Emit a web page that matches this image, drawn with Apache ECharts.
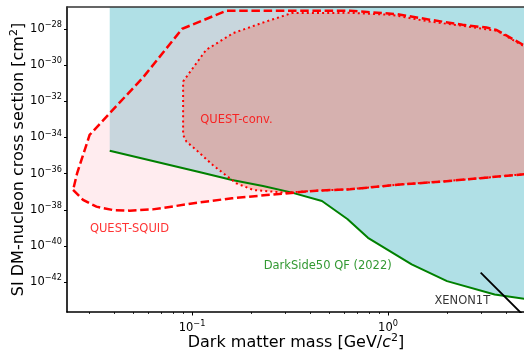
<!DOCTYPE html>
<html>
<head>
<meta charset="utf-8">
<script src="https://cdn.jsdelivr.net/npm/echarts@6/dist/echarts.min.js"></script>
<style>
  html, body { margin: 0; padding: 0; background: #fff; }
  #chart { width: 524px; height: 352px; }
</style>
</head>
<body>
<div id="chart"></div>
<script>
// Axis ranges (dark matter mass in GeV/c^2, cross section in cm^2)
const massRange = [0.023, 5];
const crossSectionRange = [2.3e-44, 1.6e-27];

// Tick positions
const xMajorTicks = [0.1, 1];
const xMinorTicks = [0.03, 0.04, 0.05, 0.06, 0.07, 0.08, 0.09,
                     0.2, 0.3, 0.4, 0.5, 0.6, 0.7, 0.8, 0.9, 2, 3, 4];
const yTicks = [1e-42, 1e-40, 1e-38, 1e-36, 1e-34, 1e-32, 1e-30, 1e-28];

// DarkSide-50 with quenching fluctuations (2022): exclusion limit
const darkSide50 = [
  [0.038, 1.86e-35], [0.11, 1.2e-36], [0.16, 4.47e-37], [0.23, 2.09e-37],
  [0.32, 9.3e-38], [0.46, 3.1e-38], [0.62, 3.16e-39], [0.79, 2.88e-40],
  [1.32, 9.8e-42], [2.0, 1.17e-42], [3.5, 2.14e-43], [5, 1.2e-43]
];

// QUEST-SQUID projected sensitivity (closed contour, continues past the frame)
const questSquid = [
  [0.0247, 1.26e-37], [0.0278, 3.55e-38], [0.0325, 1.51e-38], [0.0395, 9.8e-39],
  [0.048, 9.1e-39], [0.063, 1.07e-38], [0.083, 1.66e-38], [0.11, 2.63e-38],
  [0.16, 4.4e-38], [0.24, 6.6e-38], [0.43, 1.15e-37], [0.64, 1.38e-37],
  [1.19, 2.6e-37], [1.84, 3.6e-37], [2.94, 5.6e-37], [5.3, 1.0e-36],
  [5.3, 8.1e-30], [3.57, 8.7e-29], [3.18, 1.17e-28], [2.4, 1.66e-28],
  [1.63, 3.2e-28], [1.1, 6.5e-28], [0.64, 1.0e-27], [0.15, 1.0e-27],
  [0.089, 1.0e-28], [0.056, 1.95e-31], [0.038, 2.2e-33], [0.030, 1.38e-34],
  [0.0259, 1.05e-36]
];

// QUEST conventional readout projected sensitivity (closed contour)
const questConv = [
  [0.09, 1.23e-31], [0.118, 6.9e-30], [0.162, 5.75e-29], [0.227, 2.1e-28],
  [0.323, 7.4e-28], [0.64, 7.6e-28], [1.045, 5.9e-28], [1.63, 2.5e-28],
  [2.4, 1.48e-28], [3.59, 7.8e-29], [5.3, 7.2e-30], [5.3, 1.0e-36],
  [2.94, 5.6e-37], [1.84, 3.6e-37], [1.19, 2.6e-37], [0.64, 1.38e-37],
  [0.40, 1.1e-37], [0.30, 8.9e-38], [0.205, 1.26e-37], [0.168, 2.95e-37],
  [0.1275, 3.0e-36], [0.105, 2.04e-35], [0.0936, 5.9e-35], [0.09, 1.38e-34]
];

// XENON1T limit (visible segment)
const xenon1t = [[2.97, 3.4e-42], [4.8, 1.9e-44]];

// Curve annotations: text, anchor (left edge, vertical centre), colour
const annotationText = ['QUEST-conv.', 'QUEST-SQUID', 'DarkSide50 QF (2022)', 'XENON1T'];
const annotationAnchor = [[0.110, 9.3e-34], [0.0301, 8.5e-40], [0.232, 7.9e-42], [1.725, 9.1e-44]];
const annotationColor = ['#ff0000', '#ff0000', '#008000', '#000000'];

const FONT = 'DejaVu Sans';

// The cross-section axis is laid out in decades (log10 of cm^2)
const decade = v => Math.log10(v);
const toPlot = pts => pts.map(([m, s]) => [m, decade(s)]);

const supLabel = e => '{b|10}{s|' + (e < 0 ? '\u2212' : '') + Math.abs(e) + '}';
const tickRich = {
  b: { fontFamily: FONT, fontSize: 11.5, color: '#000', lineHeight: 16 },
  s: { fontFamily: FONT, fontSize: 8.2, color: '#000', lineHeight: 8, verticalAlign: 'top' }
};

// Closed contour drawn through the cartesian coordinate system
function contour(name, points, style, z) {
  return {
    type: 'custom', name, z, clip: true, silent: true,
    data: toPlot(points),
    renderItem: (params, api) => {
      if (params.dataIndex !== 0) return null;
      const pts = [];
      for (let i = 0; i < params.dataInsideLength; i++) {
        pts.push(api.coord([api.value(0, i), api.value(1, i)]));
      }
      return { type: 'polygon', shape: { points: pts }, style };
    }
  };
}

const baseLogX = {
  type: 'log', logBase: 10, min: massRange[0], max: massRange[1], z: 10,
  splitLine: { show: false }
};

const chart = echarts.init(document.getElementById('chart'), null, { renderer: 'canvas' });
chart.setOption({
  animation: false,
  backgroundColor: '#fff',
  grid: { left: 67, top: 7, width: 458, height: 305, containLabel: false, outerBoundsMode: 'none' },
  xAxis: [
    Object.assign({}, baseLogX, {
      position: 'bottom',
      axisLine: { show: true, onZero: false, lineStyle: { color: '#000', width: 1.6 } },
      axisTick: { show: true, customValues: xMajorTicks, length: 3.5, lineStyle: { color: '#000', width: 1 } },
      axisLabel: {
        customValues: xMajorTicks, rich: tickRich, margin: 8,
        formatter: v => supLabel(Math.round(Math.log10(v)))
      },
      name: '{t|Dark matter mass [GeV/}{i|c}{s|2}{t|]}',
      nameLocation: 'middle', nameGap: 20.5, nameMoveOverlap: false,
      nameTextStyle: {
        fontFamily: FONT, fontSize: 16, color: '#000',
        rich: {
          t: { fontFamily: FONT, fontSize: 16, color: '#000', lineHeight: 20 },
          i: { fontFamily: FONT, fontSize: 16, color: '#000', fontStyle: 'italic', lineHeight: 20 },
          s: { fontFamily: FONT, fontSize: 11, color: '#000', lineHeight: 10, verticalAlign: 'top' }
        }
      }
    }),
    Object.assign({}, baseLogX, {
      position: 'bottom',
      axisLine: { show: false, onZero: false },
      axisTick: { show: true, customValues: xMinorTicks, length: 2, lineStyle: { color: '#000', width: 0.8 } },
      axisLabel: { show: false }
    }),
    Object.assign({}, baseLogX, {
      position: 'top',
      axisLine: { show: true, onZero: false, lineStyle: { color: '#333', width: 1.6 } },
      axisTick: { show: false },
      axisLabel: { show: false }
    })
  ],
  yAxis: {
    type: 'value', min: decade(crossSectionRange[0]), max: decade(crossSectionRange[1]), z: 10,
    splitLine: { show: false },
    axisLine: { show: true, onZero: false, lineStyle: { color: '#000', width: 1.6 } },
    axisTick: { show: true, customValues: yTicks.map(decade), length: 3, lineStyle: { color: '#000', width: 1 } },
    axisLabel: {
      customValues: yTicks.map(decade), rich: tickRich, margin: 5,
      formatter: v => supLabel(Math.round(v))
    },
    name: '{t|SI DM-nucleon cross section [cm}{s|2}{t|]}',
    nameLocation: 'middle', nameRotate: 90, nameGap: 38, nameMoveOverlap: false,
    nameTextStyle: {
      fontFamily: FONT, fontSize: 16, color: '#000',
      rich: {
        t: { fontFamily: FONT, fontSize: 16, color: '#000', lineHeight: 20 },
        s: { fontFamily: FONT, fontSize: 11, color: '#000', lineHeight: 10, verticalAlign: 'top' }
      }
    }
  },
  series: [
    {
      // excluded region above the DarkSide-50 limit
      type: 'line', name: 'DarkSide50 region', data: toPlot(darkSide50), z: 1,
      showSymbol: false, silent: true, clip: true,
      lineStyle: { width: 0, opacity: 0 },
      areaStyle: { color: '#b0e0e6', opacity: 1, origin: 'end' }
    },
    contour('QUEST-SQUID fill', questSquid, { fill: 'rgba(255,192,203,0.3)', stroke: null }, 2),
    contour('QUEST-conv fill', questConv, { fill: 'rgba(240,110,90,0.35)', stroke: null }, 3),
    {
      type: 'line', name: 'DarkSide50 QF (2022)', data: toPlot(darkSide50), z: 4,
      showSymbol: false, silent: true, clip: true,
      lineStyle: { color: '#008000', width: 2 }
    },
    {
      type: 'line', name: 'XENON1T', data: toPlot(xenon1t), z: 4,
      showSymbol: false, silent: true, clip: true,
      lineStyle: { color: '#000', width: 1.8 }
    },
    contour('QUEST-SQUID', questSquid,
      { fill: null, stroke: '#ff0000', lineWidth: 2.5, lineDash: [8.5, 3.7] }, 5),
    contour('QUEST-conv.', questConv,
      { fill: null, stroke: '#ff0000', lineWidth: 2, lineDash: [2, 3.1] }, 5),
    {
      type: 'scatter', name: 'labels', z: 6, silent: true, symbolSize: 0,
      data: annotationText.map((t, i) => ({
        name: t, value: toPlot([annotationAnchor[i]])[0],
        label: { color: annotationColor[i] }
      })),
      label: {
        show: true, position: 'right', distance: 0, formatter: '{b}',
        fontFamily: FONT, fontSize: 11.5
      }
    }
  ]
});
</script>
</body>
</html>
